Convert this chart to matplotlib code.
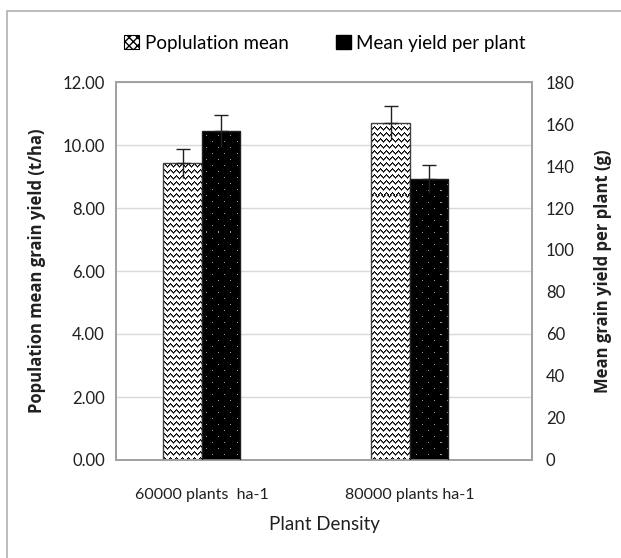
import numpy as np
import matplotlib
matplotlib.use("Agg")
import matplotlib.pyplot as plt
from matplotlib.patches import Patch, Rectangle

# data
categories = ["60000 plants  ha-1", "80000 plants ha-1"]
pop_mean = [9.42, 10.71]        # t/ha, left axis
pop_err = [0.46, 0.52]
yield_plant = [156.8, 133.8]    # g, right axis
yield_err = [7.6, 6.7]

tick_font = "Lato"
label_font = "Open Sans"

W, H = 621, 558
fig = plt.figure(figsize=(W / 100, H / 100), dpi=100)
fig.patch.set_facecolor("white")

# outer chart border (Excel chart area)
fig.patches.append(Rectangle((7 / W, -0.1), 1.2, 1 - 11 / H + 0.1, transform=fig.transFigure,
                             fill=False, edgecolor="#b0b0b0", lw=1.2))

ax = fig.add_axes([116 / W, (H - 460) / H, 416 / W, 378 / H])
ax2 = ax.twinx()

x = np.arange(len(categories))
bw = 0.185


def zigzag(h, w):
    img = np.ones((h, w, 3))
    yy, xx = np.mgrid[0:h, 0:w]
    tri = np.abs((xx % 6) - 3)
    k = (yy + tri) % 6
    img[k == 0] = 0.0
    img[k == 1] = 0.35
    return img


def dots(h, w):
    img = np.zeros((h, w, 3))
    yy, xx = np.mgrid[0:h, 0:w]
    m = (yy % 12 == 0) & (xx % 12 == 0)
    m |= (yy % 12 == 6) & (xx % 12 == 6)
    img[m] = 0.6
    return img


# population mean bars (left axis)
bars1 = ax.bar(x - bw / 2, pop_mean, width=bw, facecolor="none", edgecolor="#404040", lw=1, zorder=3)
# mean yield per plant bars (right axis)
bars2 = ax2.bar(x + bw / 2, yield_plant, width=bw, facecolor="none", edgecolor="#202020", lw=1, zorder=3)

ph, pw = 378, 416
zz = zigzag(ph, pw)
dd = dots(ph, pw)
for b in bars1:
    im = ax.imshow(zz, extent=[0, 1, 0, 1], transform=ax.transAxes, aspect="auto",
                   interpolation="nearest", zorder=2)
    im.set_clip_path(b)
for b in bars2:
    im = ax2.imshow(dd, extent=[0, 1, 0, 1], transform=ax2.transAxes, aspect="auto",
                    interpolation="nearest", zorder=2)
    im.set_clip_path(b)

# error bars: line down into bar, cap on top
ax.errorbar(x - bw / 2, pop_mean, yerr=[pop_err, [0, 0]], fmt="none", ecolor="#202020", lw=1, capsize=0, zorder=4)
ax.errorbar(x - bw / 2, pop_mean, yerr=[[0, 0], pop_err], fmt="none", ecolor="#202020", lw=1, capsize=5, zorder=4)
ax2.errorbar(x + bw / 2, yield_plant, yerr=[yield_err, [0, 0]], fmt="none", ecolor="#202020", lw=1, capsize=0, zorder=4)
ax2.errorbar(x + bw / 2, yield_plant, yerr=[[0, 0], yield_err], fmt="none", ecolor="#202020", lw=1, capsize=5, zorder=4)

ax.set_xlim(-0.413, 1.587)
ax.set_ylim(0, 12)
ax2.set_ylim(0, 180)
ax.set_yticks(np.arange(0, 12.01, 2))
ax.set_yticklabels([f"{v:.2f}" for v in np.arange(0, 12.01, 2)])
ax2.set_yticks(np.arange(0, 181, 20))
ax.set_xticks(x)
ax.set_xticklabels(categories)

ax.yaxis.grid(True, color="#d9d9d9", lw=1)
ax.set_axisbelow(True)
for a in (ax, ax2):
    for s in a.spines.values():
        s.set_color("#a0a0a0")
        s.set_linewidth(1.2)
    a.tick_params(length=0)
ax.tick_params(axis="y", pad=8)
ax2.tick_params(axis="y", pad=10)
ax.tick_params(axis="x", pad=20)
for lab in ax.get_yticklabels() + ax2.get_yticklabels():
    lab.set_fontfamily(tick_font)
    lab.set_fontsize(12)
    lab.set_color("#202020")
for lab in ax.get_xticklabels():
    lab.set_fontfamily(tick_font)
    lab.set_fontsize(11.5)
    lab.set_color("#202020")

ax.set_xlabel("Plant Density", fontfamily=tick_font, fontsize=13.5, labelpad=10, color="#202020")
ax.set_ylabel("Population mean grain yield (t/ha)", fontfamily=label_font, fontweight="bold",
              fontsize=12, labelpad=12, color="#202020")
ax2.set_ylabel("Mean grain yield per plant (g)", fontfamily=label_font, fontweight="bold",
               fontsize=12, labelpad=14, color="#202020")

handles = [Patch(facecolor="white", edgecolor="black", hatch="xxxx", lw=0.8),
           Patch(facecolor="black", edgecolor="black")]
fig.legend(handles, ["Poplulation mean", "Mean yield per plant"], loc="center",
           bbox_to_anchor=(325 / W, 1 - 43 / H), ncol=2, frameon=False,
           prop={"family": tick_font, "size": 13.5}, handlelength=0.8, handleheight=0.8,
           handletextpad=0.3, columnspacing=2.5)

fig.savefig("out.png", dpi=100)
